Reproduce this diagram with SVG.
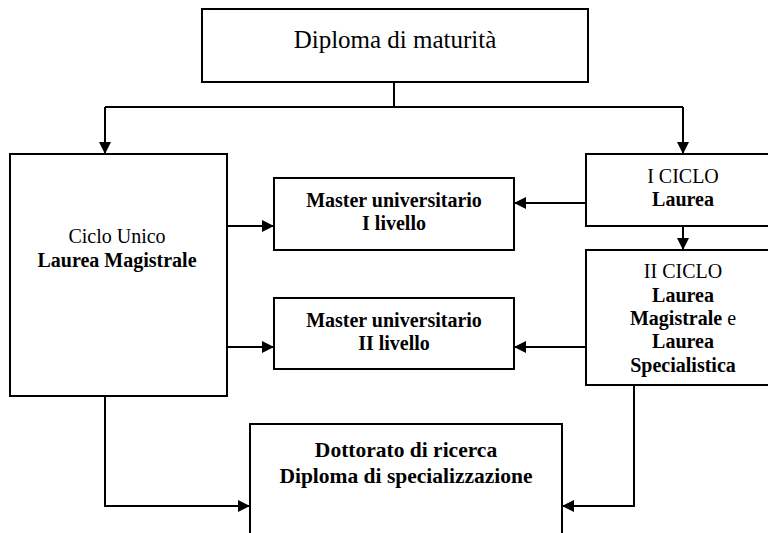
<svg xmlns="http://www.w3.org/2000/svg" width="768" height="533" viewBox="0 0 768 533">
<style>
.box{fill:#fff;stroke:#000;stroke-width:2}
.c{fill:none;stroke:#000;stroke-width:2}
text{font-family:"Liberation Serif","Times New Roman",serif;fill:#000;text-anchor:middle}
.r{font-size:20px}
.b{font-size:20px;font-weight:bold}
.bl{font-size:21.5px;font-weight:bold}
.t{font-size:25px}
</style>
<defs>
<marker id="ah" markerWidth="12" markerHeight="12" refX="12" refY="6" orient="auto" markerUnits="userSpaceOnUse">
<path d="M0,0 L12,6 L0,12 Z" fill="#000"/>
</marker>
</defs>
<rect width="768" height="533" fill="#fff"/>
<g id="connectors">
<path class="c" d="M394,82 V107"/>
<path class="c" d="M105,107 H683"/>
<path class="c" d="M105,107 V154" marker-end="url(#ah)"/>
<path class="c" d="M683,107 V154" marker-end="url(#ah)"/>
<path class="c" d="M683,226 V250" marker-end="url(#ah)"/>
<path class="c" d="M227,226 H274" marker-end="url(#ah)"/>
<path class="c" d="M227,347 H274" marker-end="url(#ah)"/>
<path class="c" d="M586,203 H514" marker-end="url(#ah)"/>
<path class="c" d="M586,347 H514" marker-end="url(#ah)"/>
<path class="c" d="M105,396 V506 H250" marker-end="url(#ah)"/>
<path class="c" d="M634,385 V506 H562" marker-end="url(#ah)"/>
</g>
<g id="diploma">
<rect class="box" x="202" y="9" width="386" height="73"/>
<text class="t" x="395" y="48">Diploma di maturità</text>
</g>
<g id="ciclo-unico">
<rect class="box" x="10" y="154" width="217" height="242"/>
<text class="r" x="117" y="243">Ciclo Unico</text>
<text class="b" x="117" y="267">Laurea Magistrale</text>
</g>
<g id="master1">
<rect class="box" x="274" y="178" width="240" height="72"/>
<text class="b" x="394" y="207">Master universitario</text>
<text class="b" x="394" y="230">I livello</text>
</g>
<g id="master2">
<rect class="box" x="274" y="298" width="240" height="71"/>
<text class="b" x="394" y="327">Master universitario</text>
<text class="b" x="394" y="350">II livello</text>
</g>
<g id="ciclo1">
<rect class="box" x="586" y="154" width="200" height="72"/>
<text class="r" x="683" y="183">I CICLO</text>
<text class="b" x="683" y="206">Laurea</text>
</g>
<g id="ciclo2">
<rect class="box" x="586" y="250" width="200" height="135"/>
<text class="r" x="683" y="278">II CICLO</text>
<text class="b" x="683" y="302">Laurea</text>
<text x="683" y="325" class="r"><tspan font-weight="bold">Magistrale</tspan> e</text>
<text class="b" x="683" y="348">Laurea</text>
<text class="b" x="683" y="372">Specialistica</text>
</g>
<g id="dottorato">
<rect class="box" x="250" y="424" width="312" height="130"/>
<text class="bl" x="406" y="457">Dottorato di ricerca</text>
<text class="bl" x="406" y="483">Diploma di specializzazione</text>
</g>
</svg>
